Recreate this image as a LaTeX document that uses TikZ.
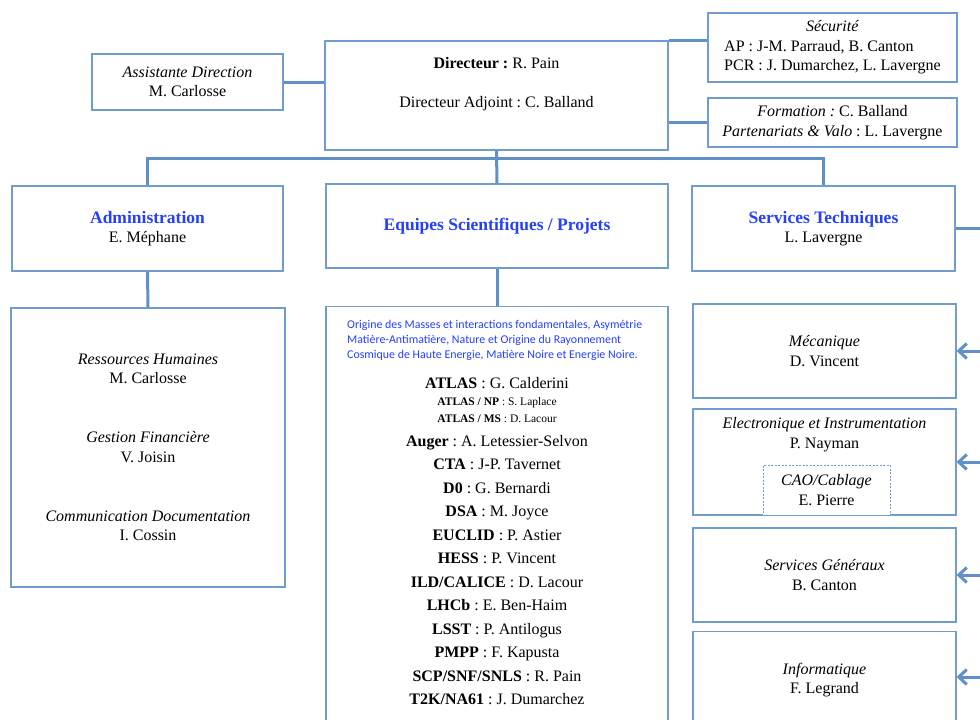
\documentclass[tikz,border=0pt]{standalone}
\usepackage{fontspec}
\setmainfont{Liberation Serif}
\newfontfamily\calfont{Carlito}
\usetikzlibrary{arrows.meta}
\frenchspacing
\definecolor{boxblue}{RGB}{112,156,206}
\definecolor{linkblue}{RGB}{96,144,198}
\definecolor{titleblue}{RGB}{38,64,245}
\newcommand{\ttl}[1]{{\fontsize{17.5}{19.5}\selectfont\bfseries\color{titleblue}#1}}
\tikzset{
  box/.style={draw=boxblue, line width=1.1pt, fill=white, align=center, inner sep=0pt,
    font=\fontsize{16}{19.5}\selectfont},
  txt/.style={align=center, inner sep=0pt, font=\fontsize{16}{19.5}\selectfont},
  link/.style={draw=linkblue, line width=3pt},
  feed/.style={draw=linkblue, line width=3pt, {Straight Barb[length=8pt,width=15pt]}-},
}
\begin{document}
\begin{tikzpicture}[x=1pt,y=-1pt]
\useasboundingbox (0,0) rectangle (980,720);
\clip (0,0) rectangle (980,720);
% direction
\node[box, minimum width=191pt, minimum height=56pt] (asst) at (187.5,82) {\textit{Assistante Direction}\\M. Carlosse};
\node[box, minimum width=343pt, minimum height=109pt] (dir) at (496.5,95.5) {};
\node[txt] (dirtxt) at (496.5,84.5) {\textbf{Directeur :} R. Pain\\[19.5pt]Directeur Adjoint : C. Balland};
\node[box, minimum width=249pt, minimum height=69pt] (secu) at (832.5,47.5) {\begin{tabular}{@{}l@{}}\multicolumn{1}{@{}c@{}}{\textit{Sécurité}}\\AP : J-M. Parraud, B. Canton\\PCR : J. Dumarchez, L. Lavergne\end{tabular}};
\node[box, minimum width=249pt, minimum height=49pt] (form) at (832.5,122.5) {\textit{Formation :} C. Balland\\\textit{Partenariats \& Valo} : L. Lavergne};
\draw[link](asst.east) -- (asst.east -| dir.west);
\draw[link]([yshift=7pt]secu.west) -- ([yshift=7pt]secu.west -| dir.east);
\draw[link](form.west) -- (form.west -| dir.east);
% departments
\node[box, minimum width=271pt, minimum height=85pt] (admin) at (147.5,228.5) {\ttl{Administration}\\E. Méphane};
\node[box, minimum width=342pt, minimum height=84pt] (equip) at (497,226) {\ttl{Equipes Scientifiques / Projets}};
\node[box, minimum width=263pt, minimum height=85pt] (stech) at (823.5,228.5) {\ttl{Services Techniques}\\L. Lavergne};
\coordinate (bus) at (497,158);
\coordinate (st) at (990,228.5);
\draw[link](dir.south) -- (equip.north);
\draw[link](admin.north) |- (bus) -| (stech.north);
\draw[link](stech.east) -- (st);
% administration
\node[box, minimum width=274pt, minimum height=279pt] (adm0) at (148,447.5) {\textit{Ressources Humaines}\\M. Carlosse\\[39.5pt]\textit{Gestion Financière}\\V. Joisin\\[39.5pt]\textit{Communication Documentation}\\I. Cossin};
\draw[link](admin.south) -- (adm0.north);
% equipes
\node[box, anchor=north, minimum width=342pt, minimum height=430pt] (teams) at (497,306) {};
\draw[link](equip.south) -- (teams.north);
\node[anchor=west, align=left, inner sep=0pt, text=titleblue, font=\calfont\fontsize{11.9}{15}\selectfont] (theme) at (347,340) {Origine des Masses et interactions fondamentales, Asymétrie\\Matière-Antimatière, Nature et Origine du Rayonnement\\Cosmique de Haute Energie, Matière Noire et Energie Noire.};
\node[txt, anchor=base] (atl0) at (497,388.5) {\textbf{ATLAS} : G. Calderini};
\node[txt, anchor=base, font=\fontsize{11.5}{14}\selectfont] (atl1) at (497,405) {\textbf{ATLAS / NP} : S. Laplace};
\node[txt, anchor=base, font=\fontsize{11.5}{14}\selectfont] (atl2) at (497,422) {\textbf{ATLAS / MS} : D. Lacour};
\foreach \who [count=\i from 0] in {{\textbf{Auger} : A. Letessier-Selvon}, {\textbf{CTA} : J-P. Tavernet},
    {\textbf{D0} : G. Bernardi}, {\textbf{DSA} : M. Joyce}, {\textbf{EUCLID} : P. Astier},
    {\textbf{HESS} : P. Vincent}, {\textbf{ILD/CALICE} : D. Lacour}, {\textbf{LHCb} : E. Ben-Haim},
    {\textbf{LSST} : P. Antilogus}, {\textbf{PMPP} : F. Kapusta}, {\textbf{SCP/SNF/SNLS} : R. Pain},
    {\textbf{T2K/NA61} : J. Dumarchez}}
  \node[txt, anchor=base] (tm\i) at (497,446.5+23.45*\i) {\who};
% services techniques
\node[box, minimum width=263pt, minimum height=94pt] (meca) at (824.5,351) {\textit{Mécanique}\\D. Vincent};
\node[box, minimum width=263pt, minimum height=106pt] (elec) at (824.5,462) {};
\node[txt] (electxt) at (824.5,434.5) {\textit{Electronique et Instrumentation}\\P. Nayman};
\node[box, dashed, line width=0.6pt, dash pattern=on 2pt off 1.5pt, minimum width=127pt, minimum height=50pt] (cao) at (826.5,490) {\textit{CAO/Cablage}\\E. Pierre};
\node[box, minimum width=263pt, minimum height=94pt] (gen) at (824.5,575) {\textit{Services Généraux}\\B. Canton};
\node[box, anchor=north, minimum width=263pt, minimum height=97pt] (info) at (824.5,631) {\textit{Informatique}\\F. Legrand};
\coordinate (f0) at (990,351);
\coordinate (f1) at (990,462);
\coordinate (f2) at (990,575);
\coordinate (f3) at (990,677);
\draw[feed](meca.east) -- (f0);
\draw[feed](elec.east) -- (f1);
\draw[feed](gen.east) -- (f2);
\draw[feed](info.east |- f3) -- (f3);
\end{tikzpicture}
\end{document}
